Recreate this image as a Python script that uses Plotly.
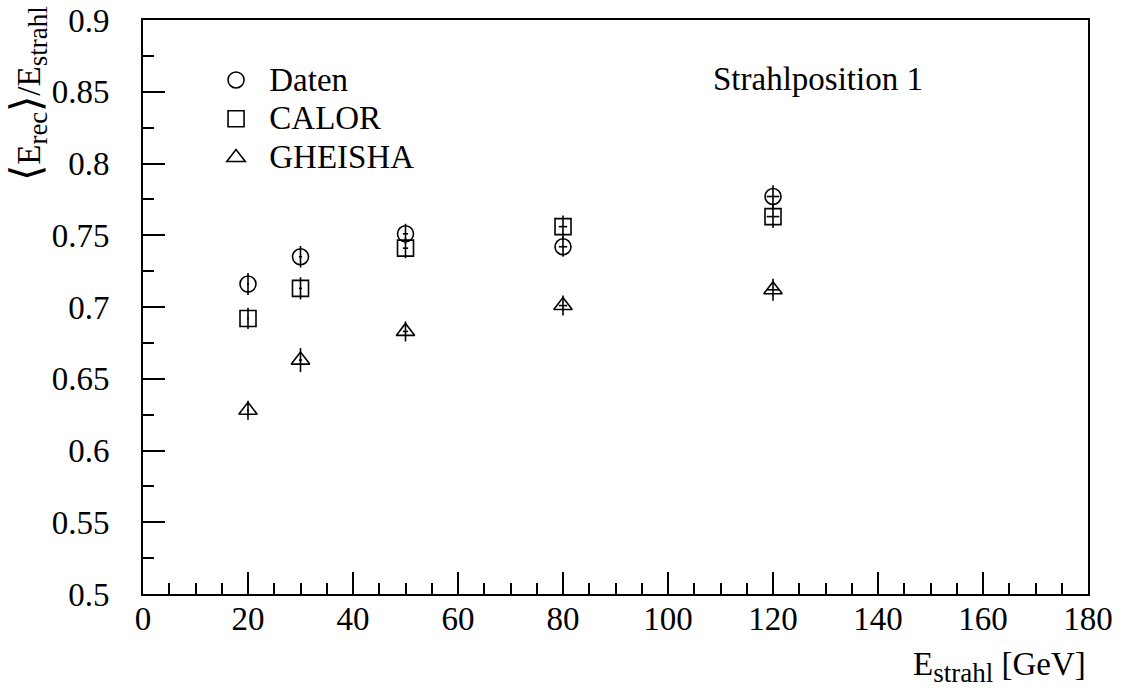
import plotly.graph_objects as go

# Beam energies [GeV] and horizontal uncertainties
energy = [20, 30, 50, 80, 120]
energy_err = [0.2, 0.3, 0.5, 0.8, 1.2]

# Mean reconstructed energy / beam energy
daten = [0.716, 0.735, 0.751, 0.742, 0.777]
daten_err = [0.0077, 0.0075, 0.007, 0.007, 0.0079]

calor = [0.692, 0.713, 0.741, 0.756, 0.763]
calor_err = [0.0074, 0.0077, 0.007, 0.0077, 0.008]

gheisha = [0.628, 0.663, 0.683, 0.701, 0.712]
gheisha_err = [0.0066, 0.0084, 0.007, 0.007, 0.0076]

# Axis tick positions and labels
x_ticks = [0, 20, 40, 60, 80, 100, 120, 140, 160, 180]
x_tick_labels = ["0", "20", "40", "60", "80", "100", "120", "140", "160", "180"]
y_ticks = [0.5, 0.55, 0.6, 0.65, 0.7, 0.75, 0.8, 0.85, 0.9]
y_tick_labels = ["0.5", "0.55", "0.6", "0.65", "0.7", "0.75", "0.8", "0.85", "0.9"]

series = [
    ("Daten", daten, daten_err, "circle-open"),
    ("CALOR", calor, calor_err, "square-open"),
    ("GHEISHA", gheisha, gheisha_err, "triangle-up-open"),
]

FONT = "Liberation Serif"
FS = 33


def sub(s):
    return f"<sub><span style='font-size:27px'>{s}</span></sub>"


fig = go.Figure()
for name, vals, errs, sym in series:
    fig.add_trace(go.Scatter(
        x=energy, y=vals,
        # legend rows are packed tighter than the label size would give
        name=f"<span style='font-size:{FS}px'>\u00a0{name}</span>",
        mode="markers",
        marker=dict(symbol=sym, size=16, color="black", line=dict(width=1.6, color="black")),
        error_y=dict(type="data", array=errs, visible=True, color="black", thickness=1.6, width=0),
        error_x=dict(type="data", array=energy_err, visible=True, color="black", thickness=1.6, width=0),
    ))

fig.update_layout(
    template="none",
    width=1125, height=693,
    margin=dict(l=143, r=37, t=20, b=99),
    paper_bgcolor="white", plot_bgcolor="white",
    font=dict(family=FONT, size=FS, color="black"),
    showlegend=True,
    legend=dict(x=0.072, y=0.938, xanchor="left", yanchor="top",
                bgcolor="rgba(0,0,0,0)", borderwidth=0, itemwidth=40,
                font=dict(family=FONT, size=27.5, color="black")),
)

for upd in (fig.update_xaxes, fig.update_yaxes):
    upd(showline=True, linecolor="black", linewidth=2, mirror=True,
        showgrid=False, zeroline=False, automargin=False,
        ticks="inside", ticklen=22, tickwidth=1.6, tickcolor="black",
        tickfont=dict(family=FONT, size=FS, color="black"))

fig.update_xaxes(range=[0, 180], tickmode="array", tickvals=x_ticks, ticktext=x_tick_labels,
                 ticklabelstandoff=-6,
                 minor=dict(dtick=5, ticks="inside", ticklen=11, tickwidth=1.6, tickcolor="black"))
fig.update_yaxes(range=[0.5, 0.9], tickmode="array", tickvals=y_ticks, ticktext=y_tick_labels,
                 ticklabelstandoff=25,
                 minor=dict(dtick=0.025, ticks="inside", ticklen=11, tickwidth=1.6, tickcolor="black"))

bracket = "<span style='font-size:42px'>{}</span>"
fig.add_annotation(text="Strahlposition 1", xref="paper", yref="paper", x=0.601, y=0.897,
                   xanchor="left", yanchor="middle", showarrow=False,
                   font=dict(family=FONT, size=FS, color="black"))
fig.add_annotation(text="E" + sub("strahl") + " [GeV]", xref="paper", yref="paper", x=1.0, y=-0.167,
                   xanchor="right", yanchor="bottom", showarrow=False,
                   font=dict(family=FONT, size=FS, color="black"))
fig.add_annotation(text=bracket.format("\u27e8") + "E" + sub("rec") + bracket.format("\u27e9")
                   + "/E" + sub("strahl"),
                   xref="paper", yref="paper", x=-0.122, y=1.026, xanchor="center", yanchor="top",
                   textangle=-90, showarrow=False,
                   font=dict(family=FONT, size=FS, color="black"))

fig.write_html("out.html")
